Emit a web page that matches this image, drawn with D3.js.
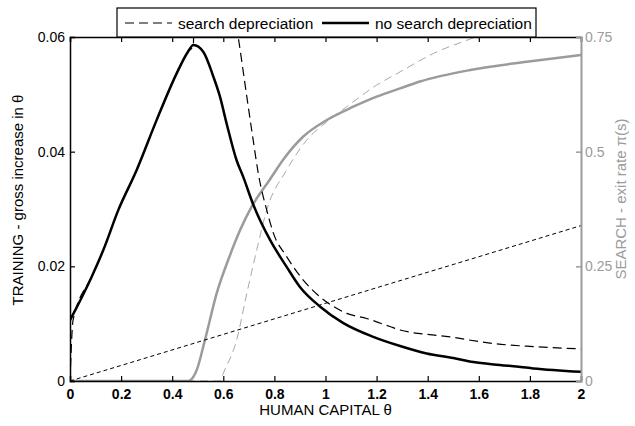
<!DOCTYPE html>
<html>
<head>
<meta charset="utf-8">
<script src="https://cdn.jsdelivr.net/npm/d3@7"></script>
<style>
  body { margin: 0; background: #fff; }
  svg { font-family: "Liberation Sans", Arial, sans-serif; }
</style>
</head>
<body>
<svg id="chart" width="635" height="426"></svg>
<script>
'use strict';

// training, no search depreciation (left axis)
const trainNoDepX = [0, 0.085, 0.13, 0.189, 0.261, 0.339, 0.418, 0.46, 0.483, 0.522, 0.561, 0.587, 0.613, 0.652, 0.678, 0.717, 0.783, 0.848, 0.9, 0.978, 1.07, 1.187, 1.292, 1.396, 1.5, 1.579, 1.683, 1.813, 2];
const trainNoDepY = [0.0106, 0.0182, 0.0228, 0.0298, 0.0368, 0.0455, 0.0537, 0.0573, 0.0586, 0.0574, 0.0531, 0.0496, 0.0449, 0.0385, 0.0356, 0.0308, 0.0246, 0.0199, 0.0164, 0.013, 0.0101, 0.0077, 0.0061, 0.0048, 0.004, 0.0033, 0.0028, 0.0022, 0.0016];

// training, search depreciation (left axis)
const trainDepX = [0, 0.012, 0.085, 0.13, 0.189, 0.261, 0.339, 0.418, 0.46, 0.483, 0.49, 0.6, 0.659, 0.692, 0.717, 0.737, 0.77, 0.796, 0.848, 0.913, 0.978, 1.031, 1.083, 1.161, 1.252, 1.292, 1.487, 1.644, 1.813, 2];
const trainDepY = [0, 0.0106, 0.0182, 0.0228, 0.0298, 0.0368, 0.0455, 0.0537, 0.0573, 0.0586, 0.12, 0.075, 0.0598, 0.0496, 0.042, 0.0362, 0.0298, 0.0258, 0.0217, 0.0176, 0.0147, 0.013, 0.0118, 0.0109, 0.0095, 0.0089, 0.0077, 0.0066, 0.006, 0.0056];

// reference straight line (left axis)
const refLineX = [0, 2];
const refLineY = [0, 0.0271];

// search exit rate, no depreciation (right axis)
const searchNoDepX = [0, 0.463, 0.496, 0.528, 0.574, 0.626, 0.665, 0.711, 0.783, 0.835, 0.913, 1.005, 1.109, 1.2, 1.292, 1.37, 1.566, 1.788, 2];
const searchNoDepY = [0, 0, 0.024, 0.089, 0.191, 0.274, 0.328, 0.38, 0.44, 0.483, 0.533, 0.569, 0.598, 0.62, 0.638, 0.653, 0.678, 0.696, 0.711];

// search exit rate, depreciation (right axis)
const searchDepX = [0, 0.587, 0.6, 0.652, 0.692, 0.731, 0.77, 0.848, 0.926, 1.005, 1.083, 1.2, 1.292, 1.422, 1.592, 1.7];
const searchDepY = [0, 0, 0.017, 0.089, 0.191, 0.286, 0.373, 0.46, 0.525, 0.565, 0.598, 0.645, 0.674, 0.714, 0.751, 0.775];

const xTicks = [0, 0.2, 0.4, 0.6, 0.8, 1, 1.2, 1.4, 1.6, 1.8, 2];
const leftTicks = [0, 0.02, 0.04, 0.06];
const rightTicks = [0, 0.25, 0.5, 0.75];

const margin = { left: 70, right: 54, top: 37, bottom: 45 };
const W = 635, H = 426;
const svg = d3.select("#chart");
const grey = "#9b9b9b";

const x = d3.scaleLinear().domain([0, 2]).range([margin.left, W - margin.right]);
const yL = d3.scaleLinear().domain([0, 0.06]).range([H - margin.bottom, margin.top]);
const yR = d3.scaleLinear().domain([0, 0.75]).range([H - margin.bottom, margin.top]);

svg.append("clipPath").attr("id", "clip")
  .append("rect")
  .attr("x", x(0)).attr("y", yL(0.06))
  .attr("width", x(2) - x(0)).attr("height", yL(0) - yL(0.06));

const plot = svg.append("g").attr("clip-path", "url(#clip)");

function drawSeries(xs, ys, yScale, color, width, dash) {
  const pts = xs.map((d, i) => [d, ys[i]]);
  plot.append("path")
    .datum(pts)
    .attr("fill", "none")
    .attr("stroke", color)
    .attr("stroke-width", width)
    .attr("stroke-dasharray", dash)
    .attr("stroke-linejoin", "round")
    .attr("d", d3.line().curve(d3.curveMonotoneX).x(d => x(d[0])).y(d => yScale(d[1])));
}

drawSeries(searchDepX, searchDepY, yR, "#a8a8a8", 1, "8,5");
drawSeries(searchNoDepX, searchNoDepY, yR, grey, 2.5, null);
drawSeries(refLineX, refLineY, yL, "#000", 1, "4,3");
drawSeries(trainDepX, trainDepY, yL, "#000", 1.2, "9,5");
drawSeries(trainNoDepX, trainNoDepY, yL, "#000", 2.5, null);

// axes
const fmt = d => (d === 0 ? "0" : String(d));

const bottomAxis = svg.append("g")
  .attr("transform", `translate(0,${yL(0)})`)
  .call(d3.axisBottom(x).tickValues(xTicks).tickSize(-5).tickPadding(8).tickFormat(fmt));
bottomAxis.selectAll("text").attr("font-size", 14).attr("font-weight", "bold")
  .attr("font-family", "Liberation Sans, Arial, sans-serif");

const topAxis = svg.append("g")
  .attr("transform", `translate(0,${yL(0.06)})`)
  .call(d3.axisTop(x).tickValues(xTicks).tickSize(-5).tickFormat(""));

const leftAxis = svg.append("g")
  .attr("transform", `translate(${x(0)},0)`)
  .call(d3.axisLeft(yL).tickValues(leftTicks).tickSize(-5).tickPadding(5).tickFormat(fmt));
leftAxis.selectAll("text").attr("font-size", 14)
  .attr("font-family", "Liberation Sans, Arial, sans-serif");

const rightAxis = svg.append("g")
  .attr("transform", `translate(${x(2)},0)`)
  .call(d3.axisRight(yR).tickValues(rightTicks).tickSize(-5).tickPadding(4).tickFormat(fmt));
rightAxis.selectAll("text").attr("font-size", 14).attr("fill", grey)
  .attr("font-family", "Liberation Sans, Arial, sans-serif");
rightAxis.selectAll("line").attr("stroke", grey);

[bottomAxis, topAxis, leftAxis].forEach(g => {
  g.select(".domain").attr("stroke", "#000").attr("stroke-width", 1.5);
  g.selectAll(".tick line").attr("stroke", "#000").attr("stroke-width", 1.2);
});
rightAxis.select(".domain").attr("stroke", grey).attr("stroke-width", 2);
rightAxis.selectAll(".tick line").attr("stroke-width", 1.5);

// axis titles
svg.append("text")
  .attr("x", (x(0) + x(2)) / 2).attr("y", 415)
  .attr("text-anchor", "middle").attr("font-size", 15)
  .text("HUMAN CAPITAL θ");

svg.append("text")
  .attr("transform", "translate(23,200) rotate(-90)")
  .attr("text-anchor", "middle").attr("font-size", 15)
  .text("TRAINING - gross increase in θ");

svg.append("text")
  .attr("transform", "translate(626,199) rotate(-90)")
  .attr("text-anchor", "middle").attr("font-size", 15).attr("fill", grey)
  .text("SEARCH - exit rate π(s)");

// legend
const legend = svg.append("g");
legend.append("rect")
  .attr("x", 117).attr("y", 8).attr("width", 419).attr("height", 29)
  .attr("fill", "#fff").attr("stroke", "#000").attr("stroke-width", 1.2);
const legendItems = [
  { label: "search depreciation", x0: 125, dash: "9,5", width: 1.2 },
  { label: "no search depreciation", x0: 322, dash: null, width: 2.5 }
];
legendItems.forEach(d => {
  legend.append("line")
    .attr("x1", d.x0).attr("x2", d.x0 + 47).attr("y1", 23).attr("y2", 23)
    .attr("stroke", "#000").attr("stroke-width", d.width).attr("stroke-dasharray", d.dash);
  legend.append("text")
    .attr("x", d.x0 + 53).attr("y", 28.5).attr("font-size", 15.5)
    .text(d.label);
});
</script>
</body>
</html>
